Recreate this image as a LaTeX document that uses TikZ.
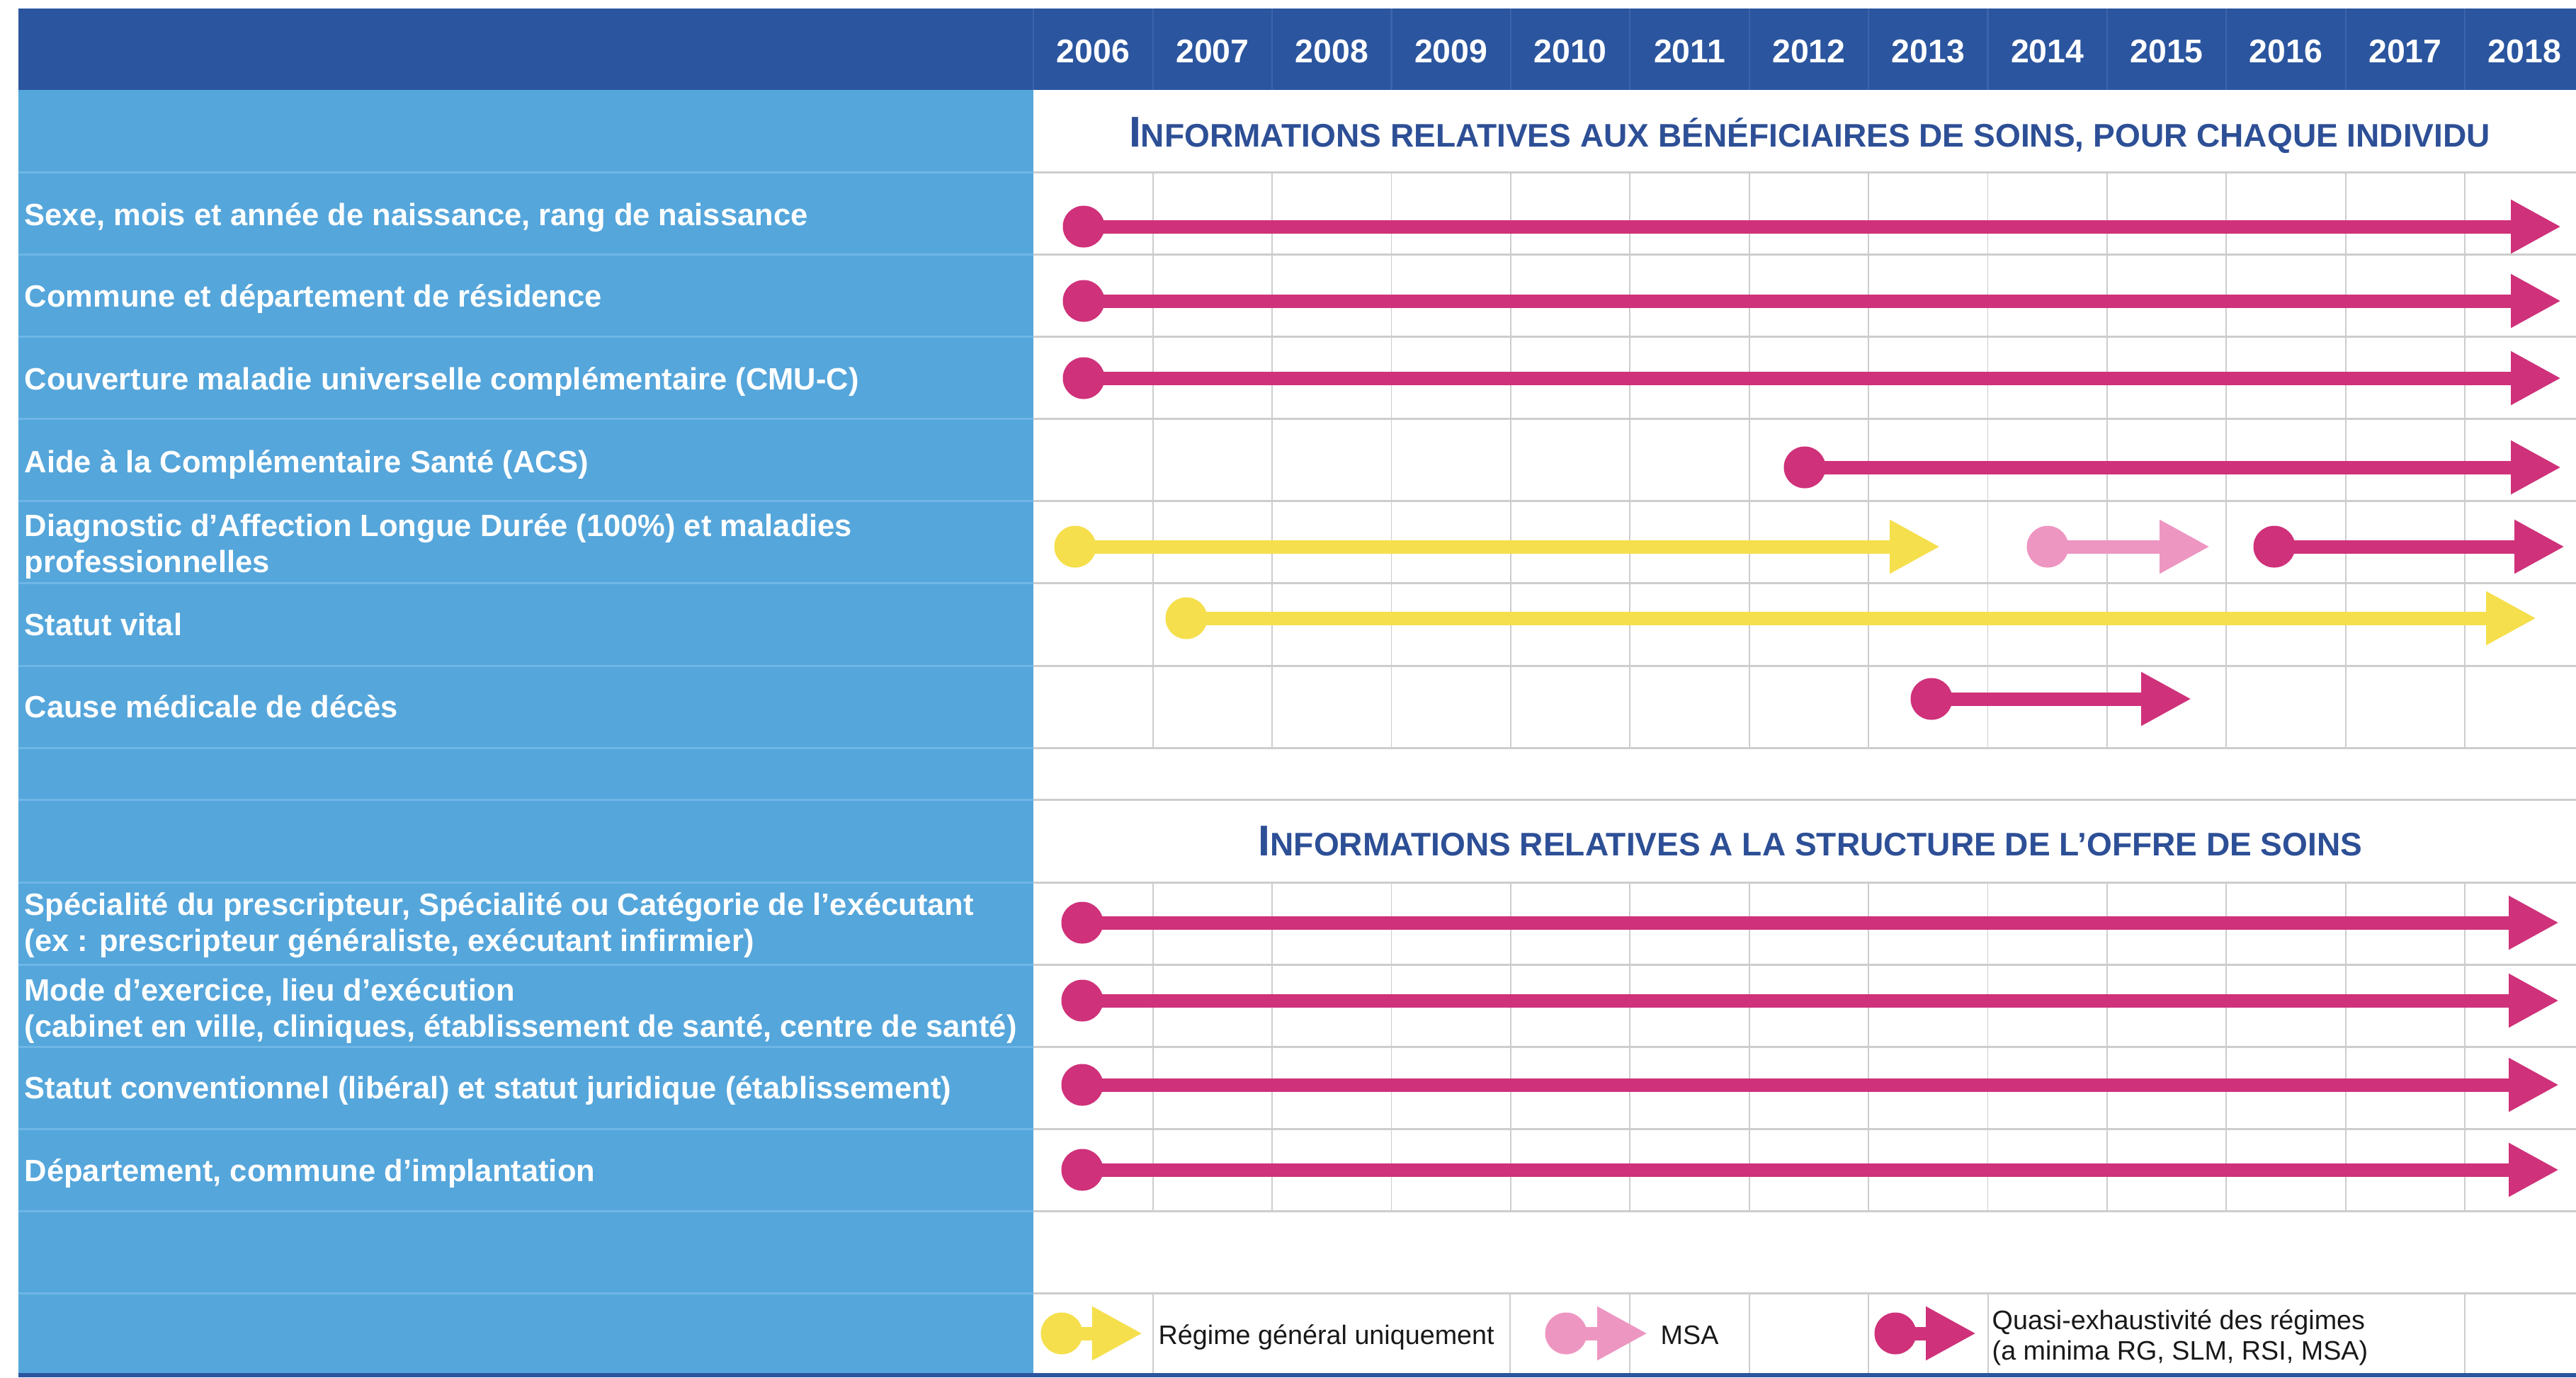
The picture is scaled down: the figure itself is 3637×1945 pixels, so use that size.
\documentclass[tikz,border=0pt]{standalone}
\usepackage{fontspec}
\setmainfont{Liberation Sans}
\usetikzlibrary{arrows.meta}
\definecolor{hdr}{HTML}{2B559F}
\definecolor{hdrline}{HTML}{3A64AB}
\definecolor{lblue}{HTML}{55A6DB}
\definecolor{lbline}{HTML}{6FB6E6}
\definecolor{gridc}{HTML}{CDCDCD}
\definecolor{ttl}{HTML}{2D4F96}
\definecolor{mag}{HTML}{CF317A}
\definecolor{yel}{HTML}{F5DF4C}
\definecolor{pnk}{HTML}{EE96C2}
\newcommand\scttl[2]{{\fontsize{17.3}{17.3}\selectfont #1}{\fontsize{13.1}{13.1}\selectfont #2}}
\tikzset{
  yr/.style={text=white, font=\bfseries\fontsize{13.2}{13.2}\selectfont, inner sep=0, anchor=base},
  lbl/.style={text=white, font=\bfseries\fontsize{12.38}{14.23}\selectfont, inner sep=0, anchor=base west, align=left},
  ttlnode/.style={text=ttl, font=\bfseries, inner sep=0, anchor=base},
  leg/.style={text=black!90, font=\fontsize{10.73}{12.2}\selectfont, inner sep=0, anchor=base west, align=left},
  dotm/.style={circle, inner sep=0, minimum size=0.59cm, fill=#1},
  tlbar/.style={line width=5.4pt, draw=#1, -{Triangle[length=20.2pt,width=20.2pt]}},
  hgrid/.style={draw=gridc, line width=0.85pt},
  vgrid/.style={draw=gridc, line width=0.5pt},
  lbsep/.style={draw=lbline, line width=0.85pt},
  hsep/.style={draw=hdrline, line width=0.6pt},
}
\begin{document}
\begin{tikzpicture}[x=0.01cm,y=-0.01cm]
\useasboundingbox (0,0) rectangle (3637,1945);
\fill[white] (0,0) rectangle (3637,1945);
% header and left column
\fill[hdr] (26,12) rectangle (3637,127);
\fill[lblue] (26,127) rectangle (1459,1940);
\fill[hdr] (26,1939) rectangle (3637,1945);
% header separators
\foreach \k in {0,...,12} {
  \pgfmathsetmacro\xx{1459.3+168.4*\k}
  \draw[hsep] (\xx,12) -- (\xx,127);
}
% horizontal separators
\foreach \y in {243,359,475,591,707,823,940,1056,1129,1246,1362,1478,1594,1710,1826} {
  \draw[lbsep] (26,\y) -- (1459,\y);
  \draw[hgrid] (1459,\y) -- (3637,\y);
}
% vertical grid
\foreach \k in {0,...,11} {
  \pgfmathsetmacro\xx{1627.7+168.4*\k}
  \draw[vgrid] (\xx,243) -- (\xx,1056);
  \draw[vgrid] (\xx,1246) -- (\xx,1710);
}
\foreach \xx in {1628,2132,2301,2470,2638,2807,3480} {
  \draw[vgrid] (\xx,1826) -- (\xx,1939);
}
% years
\foreach \k in {0,...,12} {
  \pgfmathtruncatemacro\yy{2006+\k}
  \pgfmathsetmacro\xx{1543.5+168.4*\k}
  \node[yr] (yr\k) at (\xx,88) {\yy};
}
% section titles
\node[ttlnode] (t1) at (2555,207) {\scttl{I}{NFORMATIONS RELATIVES AUX BÉNÉFICIAIRES DE SOINS, POUR CHAQUE INDIVIDU}};
\node[ttlnode] (t2) at (2556,1208) {\scttl{I}{NFORMATIONS RELATIVES A LA STRUCTURE DE L’OFFRE DE SOINS}};
% labels
\node[lbl] (l1) at (34,318) {Sexe, mois et année de naissance, rang de naissance};
\node[lbl] (l2) at (34,433) {Commune et département de résidence};
\node[lbl] (l3) at (34,550) {Couverture maladie universelle complémentaire (CMU-C)};
\node[lbl] (l4) at (34,667) {Aide à la Complémentaire Santé (ACS)};
\node[lbl] (l5) at (34,808) {Diagnostic d’Affection Longue Durée (100\%) et maladies\\professionnelles};
\node[lbl] (l6) at (34,897) {Statut vital};
\node[lbl] (l7) at (34,1013) {Cause médicale de décès};
\node[lbl] (l10) at (34,1343) {Spécialité du prescripteur, Spécialité ou Catégorie de l’exécutant\\(ex : prescripteur généraliste, exécutant infirmier)};
\node[lbl] (l11) at (34,1464) {Mode d’exercice, lieu d’exécution\\(cabinet en ville, cliniques, établissement de santé, centre de santé)};
\node[lbl] (l12) at (34,1551) {Statut conventionnel (libéral) et statut juridique (établissement)};
\node[lbl] (l13) at (34,1668) {Département, commune d’implantation};
% timeline arrows
\foreach \n/\xa/\xb/\y/\c in {a1/1530/3616/320/mag, a2/1530/3616/425/mag, a3/1530/3616/534/mag,
  a4/2548/3616/660/mag, a5/1518/2739/772/yel, a6/2891/3120/772/pnk, a7/3211/3621/772/mag,
  a8/1675/3581/873/yel, a9/2727/3094/987/mag, a10/1528/3613/1303/mag, a11/1528/3613/1413/mag,
  a12/1528/3613/1532/mag, a13/1528/3613/1652/mag} {
  \coordinate (\n e) at (\xb,\y);
  \draw[tlbar=\c] (\xa,\y) -- (\n e);
  \node[dotm=\c] (\n s) at (\xa,\y) {};
}
% legend
\foreach \n/\xa/\xb/\c in {g1/1499/1613/yel, g2/2211/2326/pnk, g3/2676/2790/mag} {
  \coordinate (\n e) at (\xb,1883);
  \draw[tlbar=\c] (\xa,1883) -- (\n e);
  \node[dotm=\c] (\n s) at (\xa,1883) {};
}
\node[leg] (lg1) at (1635,1898) {Régime général uniquement};
\node[leg] (lg2) at (2344,1898) {MSA};
\node[leg] (lg3) at (2812,1920) {Quasi-exhaustivité des régimes\\(a minima RG, SLM, RSI, MSA)};
\end{tikzpicture}
\end{document}
